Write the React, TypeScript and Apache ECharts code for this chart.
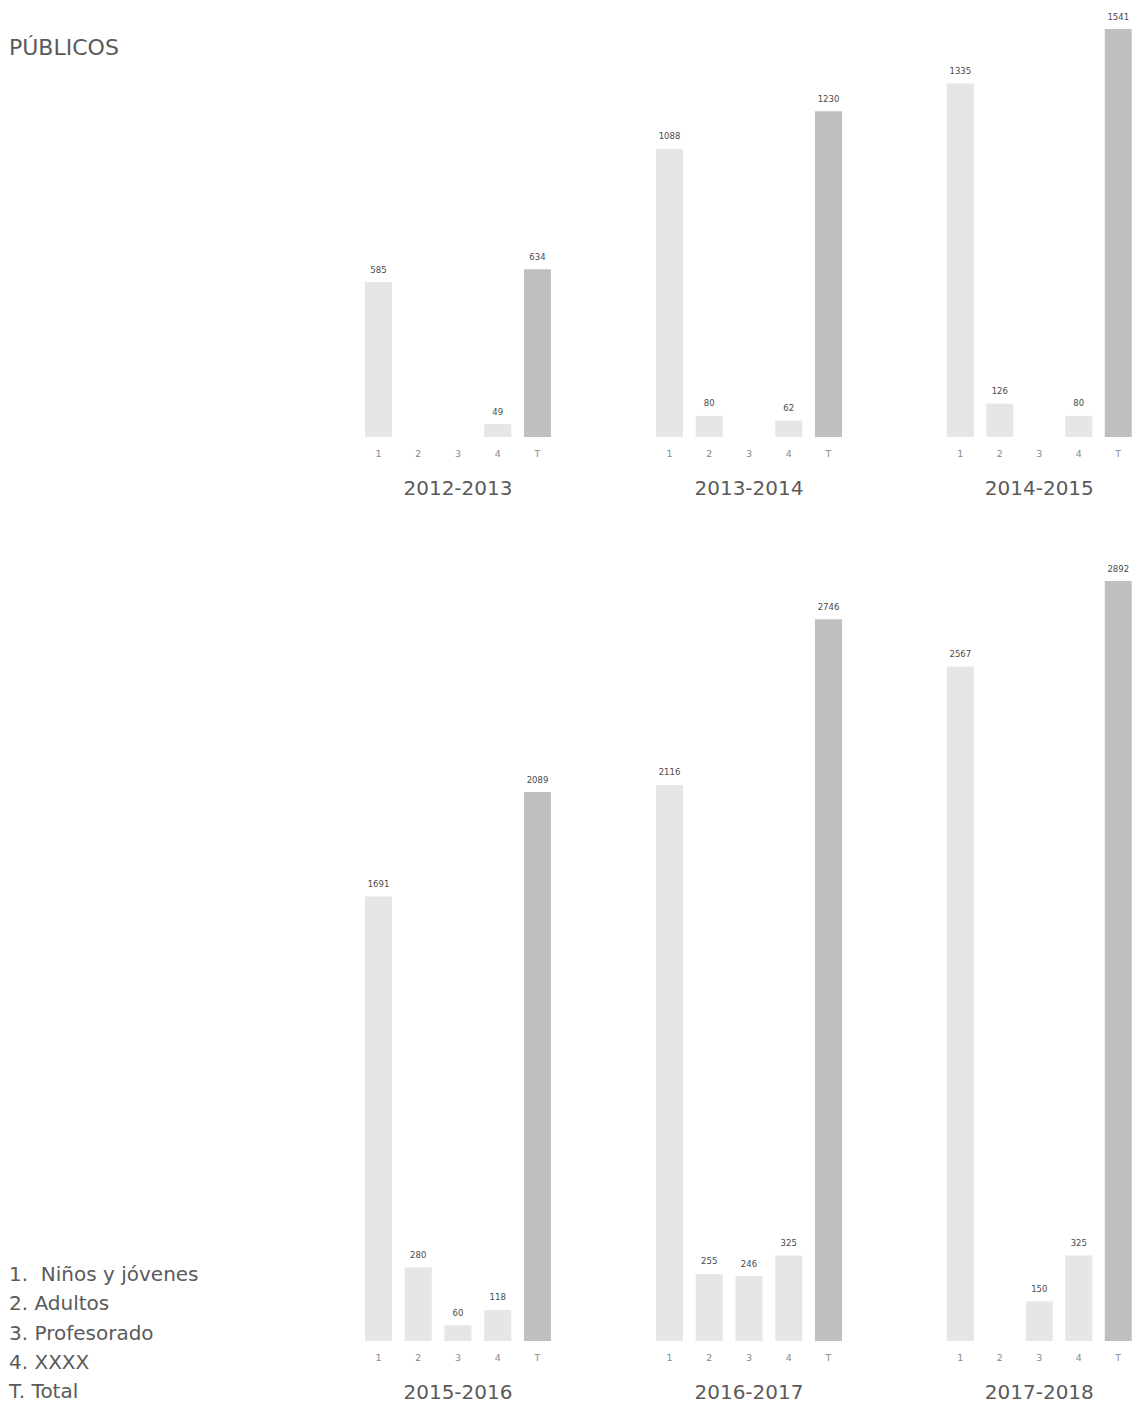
import React, { useEffect, useRef } from "react";
import * as echarts from "echarts";

const categories = ["1", "2", "3", "4", "T"];
const seasons = ["2012-2013", "2013-2014", "2014-2015", "2015-2016", "2016-2017", "2017-2018"];
const v2012 = [585, 0, 0, 49, 634];
const v2013 = [1088, 80, 0, 62, 1230];
const v2014 = [1335, 126, 0, 80, 1541];
const v2015 = [1691, 280, 60, 118, 2089];
const v2016 = [2116, 255, 246, 325, 2746];
const v2017 = [2567, 0, 150, 325, 2892];
const seasonValues = [v2012, v2013, v2014, v2015, v2016, v2017];
const legendLines = ["1.  Niños y jóvenes", "2. Adultos", "3. Profesorado", "4. XXXX", "T. Total"];
const titleText = "PÚBLICOS";

const FONT = "'DejaVu Sans', 'Open Sans', sans-serif";
const LIGHT = "#e6e6e6";
const DARK = "#c0bebf";

export default function App() {
  const ref = useRef<HTMLDivElement>(null);
  useEffect(() => {
    if (!ref.current) return;
    const chart = echarts.init(ref.current, null, { renderer: "svg" });
    const lefts = [358.6, 649.6, 940.6];
    const rows = [
      { top: 29, bottom: 1407 - 437, max: 1541 },
      { top: 581, bottom: 1407 - 1346, max: 2892 },
    ];
    const grids: any[] = [];
    const xAxes: any[] = [];
    const yAxes: any[] = [];
    const series: any[] = [];
    seasons.forEach((s, i) => {
      const row = rows[Math.floor(i / 3)];
      const left = lefts[i % 3];
      grids.push({ left, top: row.top, width: 198.75, bottom: row.bottom });
      xAxes.push({
        type: "category",
        gridIndex: i,
        data: categories,
        axisLine: { show: false },
        axisTick: { show: false },
        axisLabel: { color: "#8a8a8a", fontSize: 9.5, margin: 11, fontFamily: FONT },
        name: s,
        nameLocation: "middle",
        nameGap: 41,
        nameTextStyle: { fontSize: 20, color: "#5a5a5a", fontFamily: FONT },
      });
      yAxes.push({ type: "value", gridIndex: i, show: false, min: 0, max: row.max });
      series.push({
        type: "bar",
        xAxisIndex: i,
        yAxisIndex: i,
        barWidth: 27,
        data: seasonValues[i].map((v, j) => ({
          value: v,
          itemStyle: { color: categories[j] === "T" ? DARK : LIGHT },
        })),
        label: {
          show: true,
          position: "top",
          distance: 8,
          fontSize: 8.5,
          color: "#4a4a4a",
          fontFamily: FONT,
          formatter: (p: any) => (p.value ? String(p.value) : ""),
        },
      });
    });
    const graphic: any[] = [
      {
        type: "text",
        x: 9,
        y: 47,
        style: { text: titleText, fontSize: 22, fill: "#5a5a5a", fontFamily: FONT, verticalAlign: "middle" },
      },
      ...legendLines.map((t, i) => ({
        type: "text",
        x: 9,
        y: 1274 + i * 29.25,
        style: { text: t, fontSize: 20, fill: "#5a5a5a", fontFamily: FONT, verticalAlign: "middle" },
      })),
    ];
    chart.setOption({
      animation: false,
      grid: grids,
      xAxis: xAxes,
      yAxis: yAxes,
      series,
      graphic,
    });
    return () => chart.dispose();
  }, []);
  return (
    <div
      ref={ref}
      style={{ position: "absolute", left: 0, top: 0, width: 1138, height: 1407, background: "#fff" }}
    />
  );
}
